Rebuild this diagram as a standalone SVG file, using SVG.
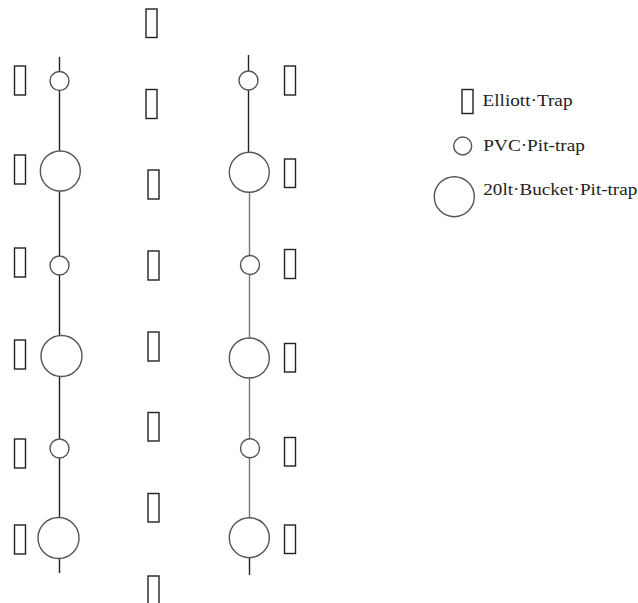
<svg xmlns="http://www.w3.org/2000/svg" width="638" height="603" viewBox="0 0 638 603">
<style>
.trap{fill:none;stroke:#222;stroke-width:1.4}
.pit{fill:#fff;stroke:#555;stroke-width:1.4}
.ln{stroke:#222;stroke-width:1.4;fill:none}
.ln2{stroke:#777;stroke-width:1.4;fill:none}
.lbl{font-family:"Liberation Serif","Times New Roman",serif;font-size:17px;fill:#222}
</style>
<rect width="638" height="603" fill="#fff"/>
<g id="connectors">
<line class="ln" x1="59.5" y1="57" x2="59.5" y2="71.5"/>
<line class="ln" x1="59.5" y1="90.5" x2="59.5" y2="151"/>
<line class="ln" x1="59.5" y1="191" x2="59.5" y2="256"/>
<line class="ln" x1="59.5" y1="275" x2="59.5" y2="335.5"/>
<line class="ln" x1="59.5" y1="376.5" x2="59.5" y2="439"/>
<line class="ln" x1="59.5" y1="458" x2="59.5" y2="517.5"/>
<line class="ln" x1="59.5" y1="558.5" x2="59.5" y2="573"/>
<line class="ln" x1="248.5" y1="55" x2="248.5" y2="71"/>
<line class="ln" x1="248.5" y1="90" x2="248.5" y2="152.3"/>
<line class="ln2" x1="249.5" y1="192.3" x2="249.5" y2="255.5"/>
<line class="ln2" x1="249.5" y1="274.5" x2="249.5" y2="338"/>
<line class="ln2" x1="249.5" y1="378" x2="249.5" y2="438.8"/>
<line class="ln2" x1="249.5" y1="457.8" x2="249.5" y2="517.7"/>
<line class="ln" x1="249.5" y1="557.7" x2="249.5" y2="575"/>
</g>
<g id="left-column">
<g id="L-E1"><rect class="trap" x="14.5" y="66" width="11" height="29"/></g>
<g id="L-P1"><circle class="pit" cx="59.5" cy="81" r="9.5"/></g>
<g id="L-E2"><rect class="trap" x="14.5" y="155" width="11" height="29"/></g>
<g id="L-B1"><circle class="pit" cx="60.3" cy="171" r="20"/></g>
<g id="L-E3"><rect class="trap" x="14.5" y="248" width="11" height="29"/></g>
<g id="L-P2"><circle class="pit" cx="59.5" cy="265.5" r="9.5"/></g>
<g id="L-E4"><rect class="trap" x="14.5" y="340" width="11" height="29"/></g>
<g id="L-B2"><circle class="pit" cx="61.5" cy="356" r="20.5"/></g>
<g id="L-E5"><rect class="trap" x="14.5" y="439" width="11" height="29"/></g>
<g id="L-P3"><circle class="pit" cx="59.5" cy="448.5" r="9.5"/></g>
<g id="L-E6"><rect class="trap" x="14.5" y="525" width="11" height="29"/></g>
<g id="L-B3"><circle class="pit" cx="58.5" cy="538" r="20.5"/></g>
</g>
<g id="center-column">
<g id="C-E1"><rect class="trap" x="146" y="9" width="11" height="28.5"/></g>
<g id="C-E2"><rect class="trap" x="146" y="89.5" width="11" height="29"/></g>
<g id="C-E3"><rect class="trap" x="148" y="170" width="11" height="29"/></g>
<g id="C-E4"><rect class="trap" x="148" y="251" width="11" height="29"/></g>
<g id="C-E5"><rect class="trap" x="148" y="332" width="11" height="29"/></g>
<g id="C-E6"><rect class="trap" x="148" y="412.5" width="11" height="28.5"/></g>
<g id="C-E7"><rect class="trap" x="148" y="493.5" width="11" height="28.5"/></g>
<g id="C-E8"><rect class="trap" x="148" y="576" width="11" height="29"/></g>
</g>
<g id="right-column">
<g id="R-P1"><circle class="pit" cx="248.5" cy="80.5" r="9.5"/></g>
<g id="R-E1"><rect class="trap" x="284.5" y="66" width="11" height="29"/></g>
<g id="R-B1"><circle class="pit" cx="249.3" cy="172.3" r="20"/></g>
<g id="R-E2"><rect class="trap" x="284.5" y="159" width="11" height="28.5"/></g>
<g id="R-P2"><circle class="pit" cx="250" cy="265" r="9.5"/></g>
<g id="R-E3"><rect class="trap" x="284.5" y="249.5" width="11" height="29"/></g>
<g id="R-B2"><circle class="pit" cx="249.3" cy="358" r="20"/></g>
<g id="R-E4"><rect class="trap" x="284.5" y="343.5" width="11" height="28.5"/></g>
<g id="R-P3"><circle class="pit" cx="250" cy="448.3" r="9.5"/></g>
<g id="R-E5"><rect class="trap" x="284.5" y="437.5" width="11" height="28.5"/></g>
<g id="R-B3"><circle class="pit" cx="249.3" cy="537.7" r="20"/></g>
<g id="R-E6"><rect class="trap" x="284.5" y="525" width="11" height="28.5"/></g>
</g>
<g id="legend">
<g id="legend-elliott"><rect class="trap" x="462" y="89.5" width="11" height="24"/><text class="lbl" x="482.5" y="105.7" textLength="90" lengthAdjust="spacingAndGlyphs">Elliott·Trap</text></g>
<g id="legend-pvc"><circle class="pit" cx="462.7" cy="146" r="9"/><text class="lbl" x="483.3" y="150.5" textLength="101.5" lengthAdjust="spacingAndGlyphs">PVC·Pit-trap</text></g>
<g id="legend-bucket"><circle class="pit" cx="454.3" cy="196.7" r="20"/><text class="lbl" x="483.3" y="194.5" textLength="154" lengthAdjust="spacingAndGlyphs">20lt·Bucket·Pit-trap</text></g>
</g>
</svg>
